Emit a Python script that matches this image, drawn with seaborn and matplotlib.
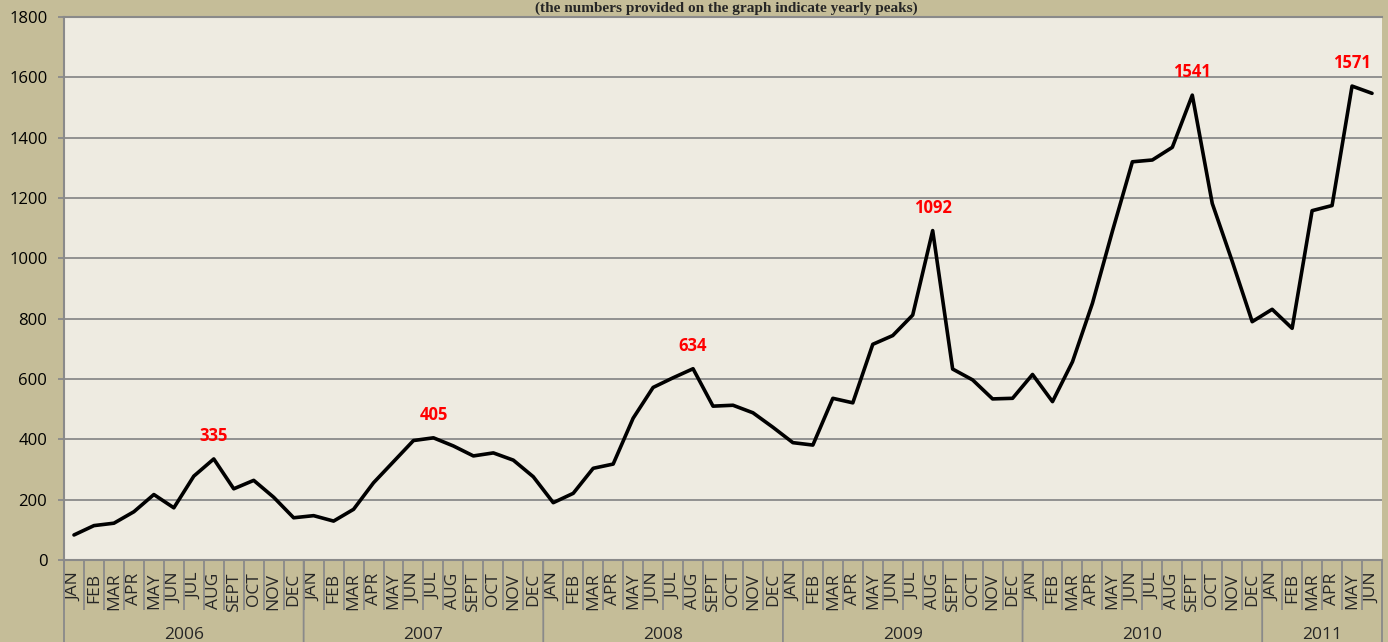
import matplotlib
matplotlib.use('Agg')
import matplotlib.pyplot as plt
import matplotlib.transforms as mtransforms
import numpy as np
import pandas as pd
import seaborn as sns

# monthly values, Jan 2006 - Jun 2011
years = ['2006', '2007', '2008', '2009', '2010', '2011']
months_per_year = [12, 12, 12, 12, 12, 6]
month_names = ['JAN', 'FEB', 'MAR', 'APR', 'MAY', 'JUN',
               'JUL', 'AUG', 'SEPT', 'OCT', 'NOV', 'DEC']
values_2006 = [83, 114, 122, 160, 217, 173, 278, 335, 236, 264, 208, 140]
values_2007 = [147, 129, 168, 256, 326, 396, 405, 378, 345, 355, 331, 276]
values_2008 = [190, 221, 304, 318, 470, 572, 604, 634, 510, 513, 488, 440]
values_2009 = [389, 381, 536, 521, 715, 744, 812, 1092, 633, 597, 534, 536]
values_2010 = [615, 525, 657, 851, 1090, 1320, 1326, 1368, 1541, 1182, 990, 790]
values_2011 = [831, 768, 1158, 1175, 1571, 1547]
peak_labels = ['335', '405', '634', '1092', '1541', '1571']

all_values = values_2006 + values_2007 + values_2008 + values_2009 + values_2010 + values_2011
labels = []
year_col = []
for y, n in zip(years, months_per_year):
    labels += month_names[:n]
    year_col += [y] * n

df = pd.DataFrame({'idx': np.arange(len(all_values)), 'month': labels,
                   'year': year_col, 'value': all_values})

tan = '#C5BD98'
plot_bg = '#EEEBE1'
grid_c = '#8A8A8A'
font = ['Open Sans', 'DejaVu Sans']

sns.set_style('white')
plt.rcParams['font.family'] = font

fig = plt.figure(figsize=(13.88, 6.42), dpi=100)
fig.patch.set_facecolor(tan)
ax = fig.add_axes([64 / 1388, 82 / 642, (1382 - 64) / 1388, (560 - 17) / 642])
ax.set_facecolor(plot_bg)

sns.lineplot(data=df, x='idx', y='value', color='black', linewidth=2.6, ax=ax, legend=False)

ax.set_xlim(-0.5, len(all_values) - 0.5)
ax.set_ylim(0, 1800)
ax.set_yticks(np.arange(0, 1801, 200))
ax.yaxis.grid(True, color=grid_c, linewidth=1.3)
ax.set_axisbelow(True)
ax.set_xlabel('')
ax.set_ylabel('')

ax.spines['right'].set_visible(False)
for side in ['left', 'bottom', 'top']:
    ax.spines[side].set_color(grid_c)
    ax.spines[side].set_linewidth(1.5)

ax.tick_params(axis='y', left=True, labelsize=12, length=4, width=1.3, color=grid_c,
               labelcolor='black', pad=8)

ax.set_xticks(df['idx'])
ax.set_xticklabels(df['month'], rotation=90, fontsize=12.5)
ax.set_xticks(np.arange(len(all_values) + 1) - 0.5, minor=True)
ax.tick_params(axis='x', which='both', bottom=True)
ax.tick_params(axis='x', which='major', length=0, pad=9)
ax.tick_params(axis='x', which='minor', length=36, width=1.3, color=grid_c)

# year groups under the month labels
trans = mtransforms.blended_transform_factory(ax.transData, ax.transAxes)
bounds = np.concatenate([[0], np.cumsum(months_per_year)]) - 0.5
for b in bounds:
    ax.annotate('', xy=(b, 0), xycoords=trans, xytext=(b, -0.16), textcoords=trans,
                arrowprops=dict(arrowstyle='-', color=grid_c, lw=1.3, shrinkA=0, shrinkB=0),
                annotation_clip=False)
for y, lo, hi in zip(years, bounds[:-1], bounds[1:]):
    ax.annotate(y, xy=((lo + hi) / 2, 0), xycoords=trans, xytext=(0, -75),
                textcoords='offset pixels', ha='center', va='center', fontsize=12.5,
                annotation_clip=False)

# yearly peak labels
for lab in peak_labels:
    row = df.loc[df['value'] == int(lab)].iloc[0]
    ax.annotate(lab, xy=(row['idx'], row['value']), xytext=(0, 23),
                textcoords='offset pixels', ha='center', va='center',
                color='#FF0000', fontsize=12, fontweight='bold')

fig.text(726 / 1388, 1 - 12 / 642, '(the numbers provided on the graph indicate yearly peaks)',
         ha='center', va='baseline', fontsize=11, fontweight='bold',
         family=['Liberation Serif', 'DejaVu Serif'])

fig.savefig('out.png', dpi=100, facecolor=tan)
